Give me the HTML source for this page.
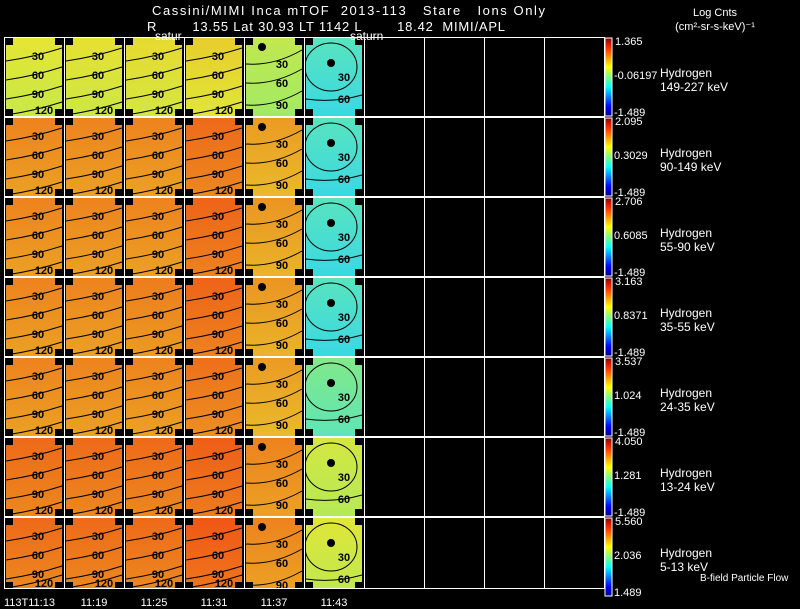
<!DOCTYPE html>
<html><head><meta charset="utf-8"><style>
html,body{margin:0;padding:0;background:#000;width:800px;height:609px;overflow:hidden}
svg{display:block;font-family:"Liberation Sans",Arial,sans-serif}
</style></head><body>
<svg id="c" width="800" height="609" viewBox="0 0 800 609">
<defs>
<linearGradient id="jet" x1="0" y1="1" x2="0" y2="0">
<stop offset="0" stop-color="#00008f"/><stop offset="0.12" stop-color="#0000ff"/>
<stop offset="0.37" stop-color="#00ffff"/><stop offset="0.5" stop-color="#80ff80"/>
<stop offset="0.63" stop-color="#ffff00"/><stop offset="0.87" stop-color="#ff3000"/>
<stop offset="1" stop-color="#900000"/></linearGradient>
</defs>
<text x="152" y="15" fill="#fff" font-size="13" textLength="393" xml:space="preserve">Cassini/MIMI Inca mTOF  2013-113   Stare   Ions Only</text>
<text x="147" y="31" fill="#fff" font-size="13" textLength="358" xml:space="preserve">R        13.55 Lat 30.93 LT 1142 L        18.42  MIMI/APL</text>
<text x="715" y="16" fill="#fff" font-size="11" text-anchor="middle">Log Cnts</text>
<text x="715" y="30" fill="#fff" font-size="11" text-anchor="middle">(cm²-sr-s-keV)⁻¹</text>
<g id="g"></g>
</svg>
<script>
const times=["113T11:13","11:19","11:25","11:31","11:37","11:43"];
const energies=["149-227 keV","90-149 keV","55-90 keV","35-55 keV","24-35 keV","13-24 keV","5-13 keV"];
const cbTop=["1.365","2.095","2.706","3.163","3.537","4.050","5.560"];
const cbMid=["-0.06197","0.3029","0.6085","0.8371","1.024","1.281","2.036"];
const cbBot=["-1.489","-1.489","-1.489","-1.489","-1.489","-1.489","1.489"];
const row0=[0.61,0.62,0.63,0.65,0.55,0.39];
const row1=[0.77,0.77,0.77,0.81,0.73,0.39];
const row2=[0.77,0.77,0.77,0.82,0.74,0.39];
const row3=[0.77,0.77,0.78,0.82,0.74,0.39];
const row4=[0.77,0.77,0.77,0.80,0.73,0.45];
const row5=[0.81,0.81,0.81,0.83,0.77,0.58];
const row6=[0.81,0.81,0.81,0.84,0.77,0.60];
const levels=[row0,row1,row2,row3,row4,row5,row6];
const NS="http://www.w3.org/2000/svg";
const g=document.getElementById('g');
function el(t,a,p){const e=document.createElementNS(NS,t);for(const k in a)e.setAttribute(k,a[k]);(p||g).appendChild(e);return e;}
function jet(v){const s=[[0,[0,0,143]],[0.12,[0,0,255]],[0.37,[60,225,225]],[0.5,[150,235,110]],[0.63,[230,230,50]],[0.87,[240,80,20]],[1,[150,0,0]]];
 for(let i=1;i<s.length;i++){if(v<=s[i][0]){const t=(v-s[i-1][0])/(s[i][0]-s[i-1][0]);const a=s[i-1][1],b=s[i][1];return `rgb(${a.map((x,j)=>Math.round(x+(b[j]-x)*t)).join(',')})`;}}return 'rgb(150,0,0)';}
const X0=4,CW=60,Y0=37,RH=80;
const xs=c=>X0+c*CW, ys=r=>Y0+r*RH;
for(let r=0;r<7;r++){
 const y=ys(r);
 const h=r==6?71:78;
 for(let c=0;c<levels[r].length;c++){
  const x=xs(c),v=levels[r][c];
  const gid='pg'+r+'_'+c;
  const lg=el('linearGradient',{id:gid,x1:0,y1:0,x2:0,y2:1},g);
  el('stop',{offset:0,'stop-color':jet(Math.min(1,v+0.02))},lg);
  el('stop',{offset:1,'stop-color':jet(v-0.03)},lg);
  const p=el('rect',{x:x+2,y:y+1,width:56,height:h,fill:`url(#${gid})`});
  
  
  [[x+1,y+1],[x+51,y+1],[x+1,y+h-6],[x+51,y+h-6]].forEach(([a,b])=>el('rect',{x:a,y:b,width:8,height:7,fill:'#000'}));
  if(c<4){
   [[20,'30'],[39,'60'],[58,'90'],[Math.min(76,h-4),'120']].forEach(([o,l])=>{
    el('path',{d:`M${x+2} ${y+o+4} Q${x+30} ${y+o} ${x+58} ${y+o-9}`,stroke:'#000',fill:'none','stroke-width':1});
    el('text',{x:x+(l=='120'?40:34),y:y+o+3,'font-size':11,'font-weight':'bold',fill:'#000','text-anchor':'middle'}).textContent=l;
   });
  }else if(c==4){
   el('circle',{cx:x+18,cy:y+10,r:4,fill:'#000'});
   [[27,'30'],[46,'60'],[68,'90']].forEach(([o,l])=>{
    el('path',{d:`M${x+2} ${y+o} Q${x+30} ${y+o+2} ${x+58} ${y+o-14}`,stroke:'#000',fill:'none','stroke-width':1});
    el('text',{x:x+38,y:y+o+4,'font-size':11,'font-weight':'bold',fill:'#000','text-anchor':'middle'}).textContent=l;
   });
  }else{
   el('ellipse',{cx:x+27,cy:y+30,rx:26,ry:24,stroke:'#000',fill:'none'});
   el('circle',{cx:x+27,cy:y+26,r:4,fill:'#000'});
   el('path',{d:`M${x+2} ${y+62} Q${x+30} ${y+66} ${x+58} ${y+58}`,stroke:'#000',fill:'none'});
   el('text',{x:x+40,y:y+44,'font-size':11,'font-weight':'bold',fill:'#000','text-anchor':'middle'}).textContent='30';
   el('text',{x:x+40,y:y+66,'font-size':11,'font-weight':'bold',fill:'#000','text-anchor':'middle'}).textContent='60';
  }
 }
 for(let c=0;c<10;c++){el('rect',{x:xs(c)+0.5,y:y+0.5,width:CW,height:r==6?71:79,fill:'none',stroke:'#fff','stroke-width':1});}
 const cb=el('rect',{x:605,y:y+1,width:7,height:78,fill:'url(#jet)',stroke:'#fff','stroke-width':1});
 
 
 el('text',{x:615,y:y+8,'font-size':11,fill:'#fff'}).textContent=cbTop[r];
 el('text',{x:614,y:y+42,'font-size':11,fill:'#fff'}).textContent=cbMid[r];
 el('text',{x:614,y:y+79,'font-size':11,fill:'#fff'}).textContent=cbBot[r];
 const t1=el('text',{x:660,y:y+40,'font-size':12,fill:'#fff'});t1.textContent='Hydrogen';
 
 
 el('text',{x:660,y:y+54,'font-size':12,fill:'#fff'}).textContent=energies[r];
}
el('text',{x:700,y:581,'font-size':10,fill:'#fff'}).textContent='B-field Particle Flow';
el('text',{x:155,y:40,'font-size':12,fill:'#fff'}).textContent='satur';
el('text',{x:350,y:40,'font-size':12,fill:'#fff'}).textContent='saturn';
times.forEach((t,i)=>{const e=el('text',{x:i==0?4:xs(i)+30,y:606,'font-size':11,fill:'#fff','text-anchor':i==0?'start':'middle'});e.textContent=t;
 
 });
</script>
</body></html>
